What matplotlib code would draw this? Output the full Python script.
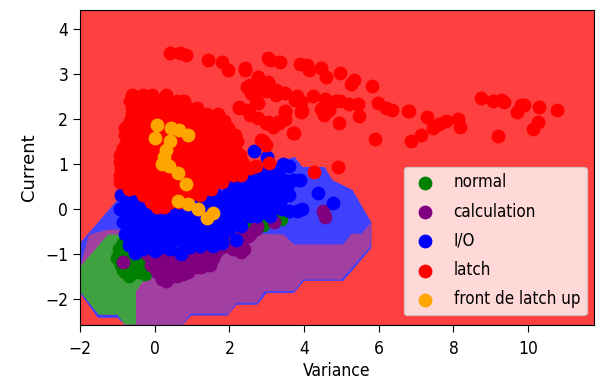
#!/usr/bin/env python3
# -*- coding: utf-8 -*-
import matplotlib
matplotlib.use('Agg')
import matplotlib.pyplot as plt

# %% Decision regions, outlines (variance, current)
io_region_x = [-2, -1.0, 0.0, 1.5, 3.0, 3.74, 3.96, 4.55, 4.76, 5.3, 5.5, 5.8, 5.8, 5.05, 4.0, 3.73,
               3.0, 2.75, 2.2, 1.95, 0.97, 0.77, -0.8, -1.0, -1.52, -2]
io_region_y = [-0.76, 0.2, 0.6, 0.7, 0.9, 1.16, 0.93, 0.93, 0.64, 0.42, 0.13, -0.3, -0.87, -1.6, -1.6, -1.87,
               -1.87, -2.13, -2.13, -2.37, -2.37, -2.57, -2.57, -2.42, -2.42, -1.87]
calc_region_x = [-2, -1.76, -1.25, -0.85, 3.45, 3.73, 5.05, 5.27, 5.55, 5.78, 5.78, 5.0, 3.98, 3.73,
                 2.95, 2.75, 2.2, 1.97, 0.95, 0.75, -0.8, -1.0, -1.5, -2]
calc_region_y = [-1.29, -0.57, -0.46, -0.46, -0.57, -0.79, -0.79, -0.55, -0.55, -0.31, -0.83, -1.57, -1.57, -1.83,
                 -1.83, -2.09, -2.09, -2.33, -2.33, -2.57, -2.57, -2.35, -2.35, -1.83]
normal_region_x = [-2, -1.25, -0.6, -0.27, -0.5, -0.5, -0.8, -1.0, -1.5, -2]
normal_region_y = [-1.29, -0.57, -0.57, -1.57, -1.83, -2.57, -2.57, -2.35, -2.35, -1.83]

# %% Points
normal_x = [-1.0, -0.95, -0.9, -0.85, -0.8, -0.75, -0.7, -0.65, -0.6, -0.55, -0.5, -0.45, -0.4, -0.35, -0.3, -0.25,
            -0.2, -0.9, -0.7, -0.5, -0.3, 2.1, 2.45, 2.55, 2.8, 2.86, 2.9, 3.3, 3.38, 2.3,
            -0.85, -0.6, -0.35, -0.75, -0.5, -0.25]
normal_y = [-1.1, -0.9, -1.25, -0.75, -1.4, -1.1, -1.5, -0.95, -1.3, -1.15, -0.85, -1.4, -1.0, -1.3, -0.85, -1.45,
            -1.1, -1.0, -1.25, -1.0, -1.2, -0.1, -0.2, -0.4, -0.2, -0.3, -0.35, -0.2, -0.22, -0.05,
            -1.35, -1.2, -1.15, -0.85, -0.95, -1.3]
calc_x = [-0.85, -0.2, -0.1, 0.0, 0.05, 0.15, 0.2, 0.3, 0.31, 0.4, 0.5, 0.55, 0.6, 0.7, 0.75, 0.8, 0.9, 1.0,
          1.1, 1.2, 1.25, 1.4, 1.47, 1.55, 1.65, 1.8, 2.0, 2.1, 2.2, 2.3, 2.4, 2.45, 2.55, 2.7, 2.75, 3.2, 4.5, 4.55,
          0.1, 0.4, 0.7, 1.0, 1.5, 1.9,
          0.0, 0.25, 0.5, 0.75, 1.0, 1.25, 1.5, 1.75, 2.0, 2.25, 2.5,
          0.1, 0.35, 0.6, 0.85, 1.1, 1.35, 0.2, 0.45, 0.7, 0.95]
calc_y = [-1.18, -1.0, -1.25, -0.95, -1.4, -1.15, -1.55, -1.3, -1.6, -1.1, -1.5, -1.3, -1.5, -1.1, -1.45, -1.25, -1.4, -1.1,
          -1.3, -1.2, -1.3, -0.95, -1.24, -1.1, -0.95, -0.85, -0.75, -0.9, -0.8, -0.95, -0.89, -0.6, -0.55, -0.45, -0.38, -0.29, -0.05, -0.18,
          -1.05, -1.2, -1.2, -1.0, -0.9, -0.7,
          -1.05, -1.0, -1.0, -0.95, -0.95, -0.9, -0.85, -0.8, -0.7, -0.65, -0.6,
          -1.3, -1.25, -1.3, -1.2, -1.15, -1.05, -1.45, -1.45, -1.35, -1.25]
io_x = [-0.9, -0.93, -0.85, -0.8, -0.7, -0.53, -0.3, 0.0, 0.2, 0.4, 0.7, 0.95, 1.2, 1.55, 1.8, 2.18, 2.3, 2.25,
        2.0, 2.2, 2.4, 2.6, 2.8, 3.0, 3.2, 3.4, 3.6, 3.8, 3.95,
        2.0, 2.2, 2.4, 2.6, 2.8, 3.0, 3.2, 3.4, 3.6, 3.9,
        2.1, 2.4, 2.65, 2.9, 3.0, 3.43, 3.6, 3.3, 4.38, 4.78]
io_y = [0.3, 0.0, -0.3, -0.55, -0.8, -0.98, -0.9, -0.94, -0.85, -0.9, -1.0, -0.85, -0.83, -0.83, -0.75, -0.68, -0.38, -0.1,
        0.3, 0.1, -0.05, 0.05, 0.1, -0.05, 0.05, 0.0, -0.05, -0.05, 0.0,
        0.4, 0.35, 0.3, 0.35, 0.4, 0.3, 0.35, 0.4, 0.3, 0.65,
        0.6, 0.65, 1.28, 0.7, 1.15, 1.0, 0.95, 0.65, 0.35, 0.13]
# solid part of the I/O cloud, one list of variances per current value
io_row_y = [0.3, 0.15, 0.0, -0.15, -0.3, -0.45, -0.6, -0.75, 0.5, 0.65, 0.85]
io_row_x = [[-0.75, -0.45, -0.15, 0.15, 0.45, 0.75, 1.05, 1.35, 1.65, 1.95],
            [-0.75, -0.5, -0.2, 0.1, 0.4, 0.7, 1.0, 1.3, 1.6, 1.9, 2.15, 2.45, 2.75, 3.05, 3.35],
            [-0.8, -0.6, -0.3, 0.0, 0.3, 0.6, 0.9, 1.2, 1.5, 1.8, 2.1, 2.3, 2.5, 2.7, 2.9, 3.1],
            [-0.75, -0.45, -0.15, 0.15, 0.45, 0.75, 1.05, 1.35, 1.65, 1.95, 2.2, 2.55, 2.75, 3.1],
            [-0.75, -0.5, -0.2, 0.1, 0.4, 0.7, 1.0, 1.3, 1.6, 1.9, 2.15],
            [-0.7, -0.4, -0.1, 0.2, 0.5, 0.8, 1.1, 1.4, 1.7, 2.0],
            [-0.6, -0.3, 0.0, 0.3, 0.6, 0.9, 1.2, 1.5, 1.8],
            [-0.45, -0.15, 0.15, 0.45, 0.75, 1.05, 1.35],
            [2.15, 2.35, 2.55, 2.75, 2.95, 3.15, 3.35, 3.55],
            [2.2, 2.45, 2.7, 2.95, 3.2, 3.45, 3.7],
            [2.4, 2.6, 2.8, 3.05, 3.3]]
latch_x = [3.03, 3.09, 3.36, 3.89, 4.07, 4.14, 4.46, 4.59, 4.97, 5.35, 5.26, 5.82, 2.42, 2.76, 3.03, 2.47, 2.58, 2.79, 2.99,
           3.25, 3.48, 2.76, 4.25, 3.77, 3.92, 4.55, 4.86, 4.95, 3.95, 4.46, 4.53, 4.68, 5.19, 5.45, 5.46, 5.97, 6.19, 6.35,
           6.77, 6.82, 7.28, 7.80, 7.60, 7.46, 7.13, 6.87, 5.90, 4.93, 3.72, 3.49, 3.48, 3.34, 3.16, 3.03, 2.76, 2.54, 2.27,
           2.49, 2.97, 2.85, 8.75, 9.05, 9.27, 9.36, 9.89, 9.80, 9.70, 10.29, 10.78, 10.27, 10.12, 9.18, 8.11, 8.17, 4.26, 4.92,
           3.06, 2.72,
           0.4, 0.67, 0.83, 1.42, 1.8, 1.95, 2.43, 2.27, 2.54, 2.7, 3.26, 3.8, 3.93, 3.48, 3.3, 2.98, 3.7, 2.9]
latch_y = [3.35, 3.30, 3.26, 3.22, 3.20, 3.08, 3.13, 2.94, 3.02, 2.87, 2.77, 2.74, 3.13, 2.94, 2.81, 2.72, 2.57, 2.68, 2.61,
           2.54, 2.57, 2.35, 2.52, 2.41, 2.37, 2.45, 2.40, 2.39, 2.17, 2.22, 2.09, 2.20, 2.33, 2.34, 2.07, 2.35, 2.24, 2.20,
           2.17, 2.17, 2.04, 1.96, 1.89, 1.80, 1.65, 1.51, 1.56, 1.92, 1.68, 2.17, 1.99, 1.92, 1.83, 1.94, 2.02, 2.09, 2.25,
           2.20, 1.42, 1.54, 2.47, 2.40, 2.41, 2.37, 2.31, 2.31, 2.15, 2.26, 2.20, 1.94, 1.78, 1.61, 2.00, 1.82, 0.82, 0.93,
           1.02, 0.96,
           3.47, 3.47, 3.42, 3.31, 3.27, 3.09, 3.09, 2.27, 2.75, 2.4, 2.65, 2.5, 2.15, 2.15, 1.93, 1.9, 1.69, 1.5]
# dense latch cloud, one list of variances per current value
latch_row_y = [2.53, 2.4, 2.25, 2.1, 1.95, 1.8, 1.65, 1.5, 1.35, 1.2, 1.05, 0.9, 0.75, 0.6, 0.45, 0.3, 0.15, 0.05]
latch_row_x = [[-0.62, -0.3, -0.07, 0.29],
               [-0.65, -0.4, -0.15, 0.1, 0.35, 0.6, 0.78],
               [-0.6, -0.35, -0.1, 0.15, 0.4, 0.65, 0.9, 1.13],
               [-0.62, -0.35, -0.1, 0.15, 0.4, 0.65, 0.9, 1.15, 1.4, 1.7],
               [-0.65, -0.4, -0.15, 0.1, 0.35, 0.6, 0.85, 1.1, 1.35, 1.6, 1.85],
               [-0.8, -0.55, -0.3, -0.05, 0.2, 0.45, 0.7, 0.95, 1.2, 1.45, 1.7, 1.95],
               [-0.8, -0.55, -0.3, -0.05, 0.2, 0.45, 0.7, 0.95, 1.2, 1.45, 1.7, 1.95, 2.15],
               [-0.75, -0.5, -0.25, 0.0, 0.25, 0.5, 0.75, 1.0, 1.25, 1.5, 1.75, 2.0, 2.2],
               [-0.85, -0.6, -0.35, -0.1, 0.15, 0.4, 0.65, 0.9, 1.15, 1.4, 1.65, 1.9, 2.15],
               [-0.93, -0.65, -0.4, -0.15, 0.1, 0.35, 0.6, 0.85, 1.1, 1.35, 1.6, 1.85, 2.1, 2.28],
               [-0.93, -0.65, -0.4, -0.15, 0.1, 0.35, 0.6, 0.85, 1.1, 1.35, 1.6, 1.85, 2.1, 2.35],
               [-0.9, -0.65, -0.4, -0.15, 0.1, 0.35, 0.6, 0.85, 1.1, 1.35, 1.6, 1.85, 2.1, 2.3, 2.55],
               [-0.93, -0.65, -0.4, -0.15, 0.1, 0.35, 0.6, 0.85, 1.1, 1.35, 1.6, 1.85, 2.1, 2.3],
               [-0.93, -0.65, -0.4, -0.15, 0.1, 0.35, 0.6, 0.85, 1.1, 1.35, 1.6, 1.8],
               [-0.7, -0.45, -0.2, 0.05, 0.3, 0.55, 0.8, 1.05, 1.3, 1.5],
               [-0.3, -0.05, 0.2, 0.45, 0.7, 0.95, 1.2],
               [-0.1, 0.15, 0.4, 0.65],
               [0.05, 0.25]]
front_x = [0.05, 0.0, 0.43, 0.88, 0.66, 0.4, 0.3, 0.2, 0.37, 0.62, 0.85, 0.62, 0.88, 1.15, 1.4, 1.55, 0.25]
front_y = [1.87, 1.57, 1.8, 1.65, 1.75, 1.5, 1.3, 1.0, 0.95, 0.8, 0.55, 0.17, 0.12, 0.0, -0.2, -0.1, 1.15]

# %% Expand the row lists
for k in range(len(io_row_y)):
    io_x = io_x + io_row_x[k]
    io_y = io_y + [io_row_y[k]] * len(io_row_x[k])
for k in range(len(latch_row_y)):
    latch_x = latch_x + latch_row_x[k]
    latch_y = latch_y + [latch_row_y[k]] * len(latch_row_x[k])

# %% Plot
plt.rcParams['font.family'] = 'DejaVu Sans'
plt.rcParams['font.stretch'] = 'condensed'

fig = plt.figure(figsize = (6.01, 3.8), dpi = 100)
ax = fig.add_axes([80 / 601, 1 - 325 / 380, 513.5 / 601, 315 / 380])
ax.set_facecolor((1, 0.25, 0.25))

ax.fill(io_region_x, io_region_y, color = (0.25, 0.25, 1), lw = 0)
ax.fill(calc_region_x, calc_region_y, color = (0.63, 0.25, 0.63), lw = 0)
ax.fill(normal_region_x, normal_region_y, color = (0.25, 0.63, 0.25), lw = 0)

ms = 80
ax.scatter(normal_x, normal_y, s = ms, c = 'green', label = 'normal')
ax.scatter(calc_x, calc_y, s = ms, c = 'purple', label = 'calculation')
ax.scatter(io_x, io_y, s = ms, c = 'blue', label = 'I/O')
ax.scatter(latch_x, latch_y, s = ms, c = 'red', label = 'latch')
ax.scatter(front_x, front_y, s = ms, c = 'orange', label = 'front de latch up')

ax.set_xlim(-2, 11.75)
ax.set_ylim(-2.58, 4.42)
ax.set_xticks([-2, 0, 2, 4, 6, 8, 10])
ax.set_yticks([-2, -1, 0, 1, 2, 3, 4])
ax.tick_params(labelsize = 12.5, length = 5)
ax.tick_params(axis = 'x', pad = 5.5)
ax.set_xlabel('Variance', fontsize = 12.5, labelpad = 3)
ax.set_ylabel('Current', fontsize = 13, stretch = 'normal', labelpad = 5)
ax.legend(loc = 'lower right', bbox_to_anchor = (0.987, 0.032), borderaxespad = 0,
          fontsize = 12.2, labelspacing = 0.66, handlelength = 1.7, handletextpad = 0.85)

fig.savefig('out.png', dpi = 100)
